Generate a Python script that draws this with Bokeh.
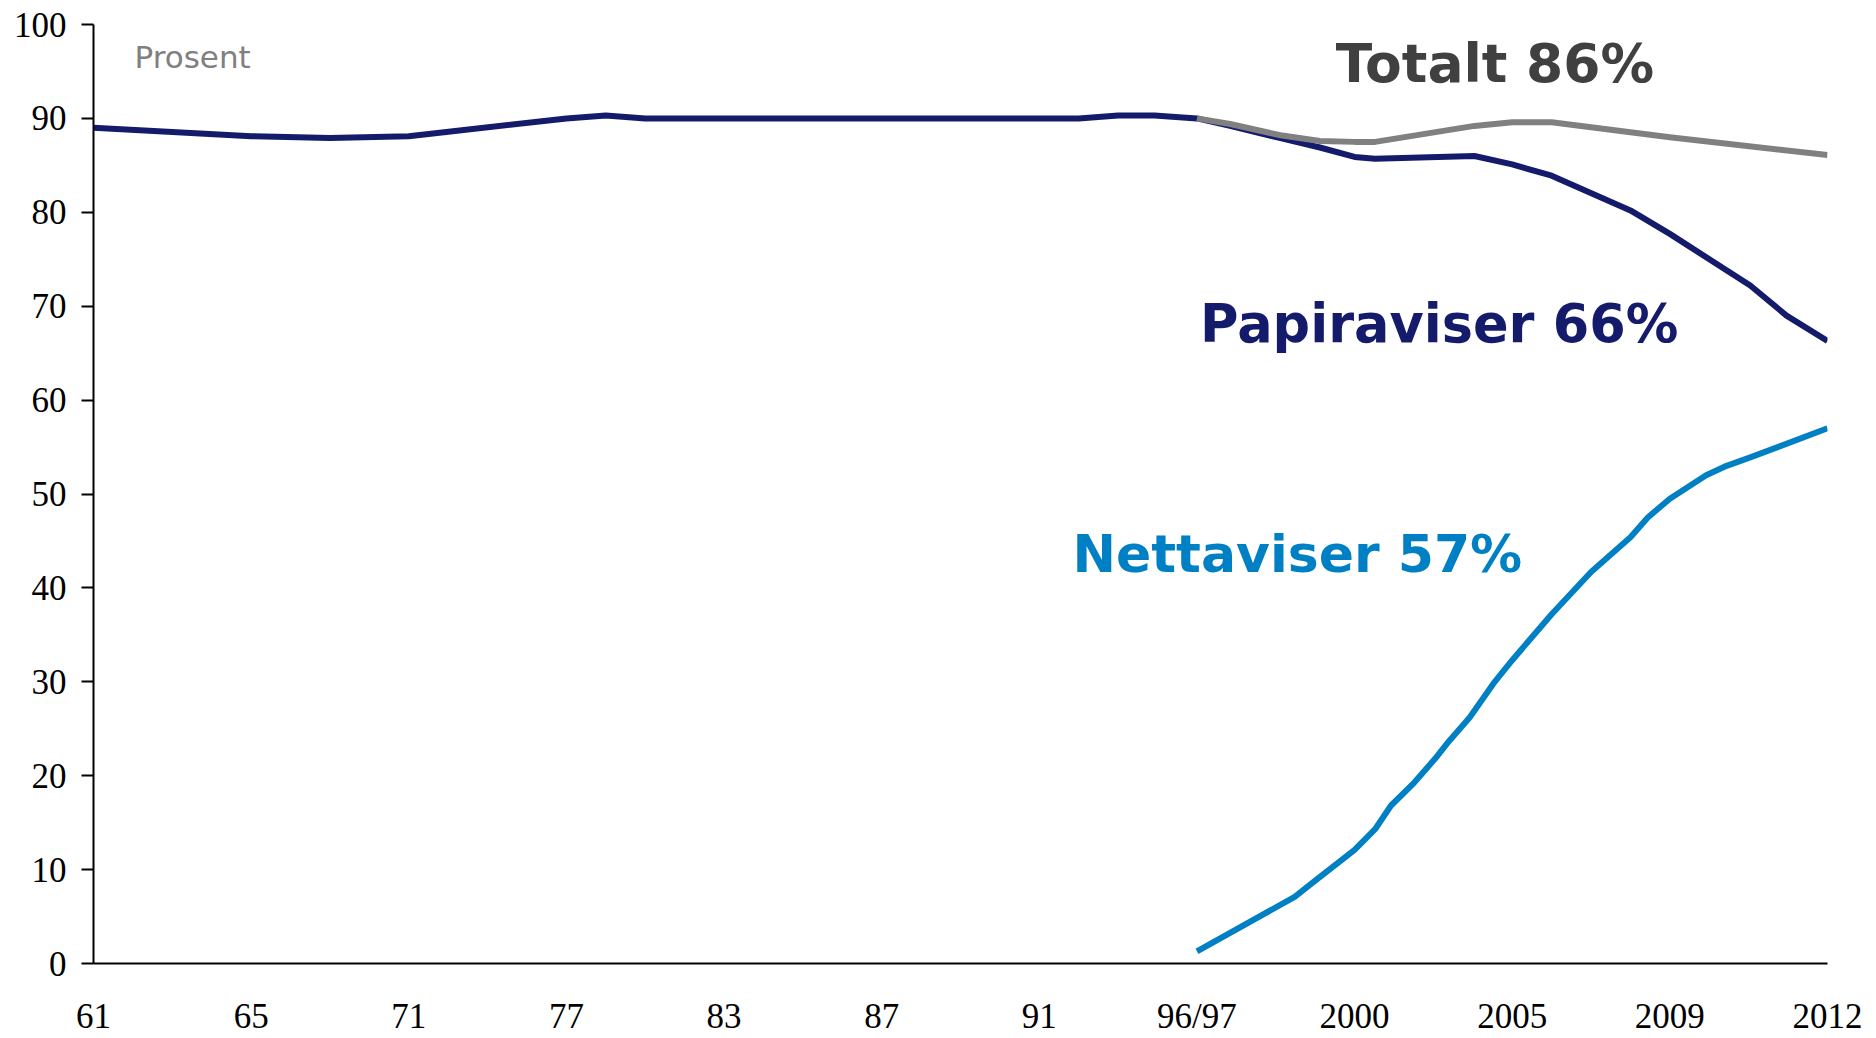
from bokeh.plotting import figure
from bokeh.models import Range1d, FixedTicker, Label
from bokeh.embed import file_html
from bokeh.resources import INLINE

# Category labels along the x axis (one per major position)
x_labels = ["61", "65", "71", "77", "83", "87", "91", "96/97", "2000", "2005", "2009", "2012"]

# Papiraviser (paper newspapers), percent, at positions along the label index
papir_pos = [0, 1, 1.5, 2, 3, 3.25, 3.5, 4, 5, 6, 6.25, 6.5, 6.73, 7, 7.21, 7.53, 7.78, 8, 8.13,
             8.76, 9, 9.25, 9.75, 10, 10.51, 10.74, 11]
papir_pct = [89.0, 88.1, 87.9, 88.1, 90.0, 90.3, 90.0, 90.0, 90.0, 90.0, 90.0, 90.3, 90.3, 90.0, 89.2,
             87.9, 86.9, 85.9, 85.7, 86.0, 85.1, 83.9, 80.2, 77.7, 72.2, 69.0, 66.3]

# Totalt (paper + net), percent
total_pos = [7, 7.21, 7.53, 7.78, 8, 8.13, 8.76, 9, 9.25, 10, 11]
total_pct = [90.0, 89.4, 88.2, 87.6, 87.5, 87.5, 89.2, 89.6, 89.6, 88.0, 86.1]

# Nettaviser (online newspapers), percent
nett_pos = [7, 7.62, 7.74, 8, 8.13, 8.23, 8.38, 8.51, 8.60, 8.73, 8.88, 9, 9.25, 9.5, 9.75, 9.86,
            10, 10.23, 10.36, 10.51, 11]
nett_pct = [1.3, 7.1, 8.7, 12.1, 14.3, 16.8, 19.3, 21.8, 23.7, 26.2, 29.8, 32.3, 37.2, 41.7, 45.4,
            47.5, 49.5, 52.0, 53.0, 53.9, 57.0]

y_ticks = [0, 10, 20, 30, 40, 50, 60, 70, 80, 90, 100]

NAVY = "#141B6B"
GRAY = "#808080"
BLUE = "#0080C4"

p = figure(width=1876, height=1038, output_backend="svg", toolbar_location=None,
           x_range=Range1d(0, len(x_labels) - 1), y_range=Range1d(0, 100),
           min_border_left=93, min_border_right=49, min_border_top=24, min_border_bottom=75)
p.outline_line_color = None
p.xgrid.grid_line_color = None
p.ygrid.grid_line_color = None
p.background_fill_color = "white"
p.border_fill_color = "white"

p.line(papir_pos, papir_pct, line_color=NAVY, line_width=6, line_join="round")
p.line(total_pos, total_pct, line_color=GRAY, line_width=6, line_join="round")
p.line(nett_pos, nett_pct, line_color=BLUE, line_width=6, line_join="round")

# Axes
xa = p.xaxis[0]
xa.ticker = FixedTicker(ticks=list(range(len(x_labels))))
xa.major_label_overrides = {i: lab for i, lab in enumerate(x_labels)}
xa.major_tick_line_color = None
xa.minor_tick_line_color = None
xa.axis_line_color = "black"
xa.axis_line_width = 2
xa.major_label_text_font = "Liberation Serif"
xa.major_label_text_font_size = "35px"
xa.major_label_text_color = "black"
xa.major_label_standoff = 27

ya = p.yaxis[0]
ya.ticker = FixedTicker(ticks=y_ticks)
ya.major_tick_out = 12
ya.major_tick_in = 0
ya.major_tick_line_width = 2
ya.major_tick_line_color = "black"
ya.minor_tick_line_color = None
ya.axis_line_color = "black"
ya.axis_line_width = 2
ya.major_label_text_font = "Liberation Serif"
ya.major_label_text_font_size = "35px"
ya.major_label_text_color = "black"
ya.major_label_standoff = 15

# Annotations
p.add_layout(Label(x=0.26, y=94.65, text="Prosent", text_font="DejaVu Sans",
                   text_font_size="31px", text_color=GRAY))
p.add_layout(Label(x=7.88, y=92.5, text="Totalt 86%", text_font="DejaVu Sans",
                   text_font_size="53.5px", text_font_style="bold", text_color="#404040"))
p.add_layout(Label(x=7.02, y=64.9, text="Papiraviser 66%", text_font="DejaVu Sans",
                   text_font_size="52.5px", text_font_style="bold", text_color=NAVY))
p.add_layout(Label(x=6.21, y=40.45, text="Nettaviser 57%", text_font="DejaVu Sans",
                   text_font_size="52px", text_font_style="bold", text_color=BLUE))

open("out.html", "w").write(file_html(p, INLINE))
